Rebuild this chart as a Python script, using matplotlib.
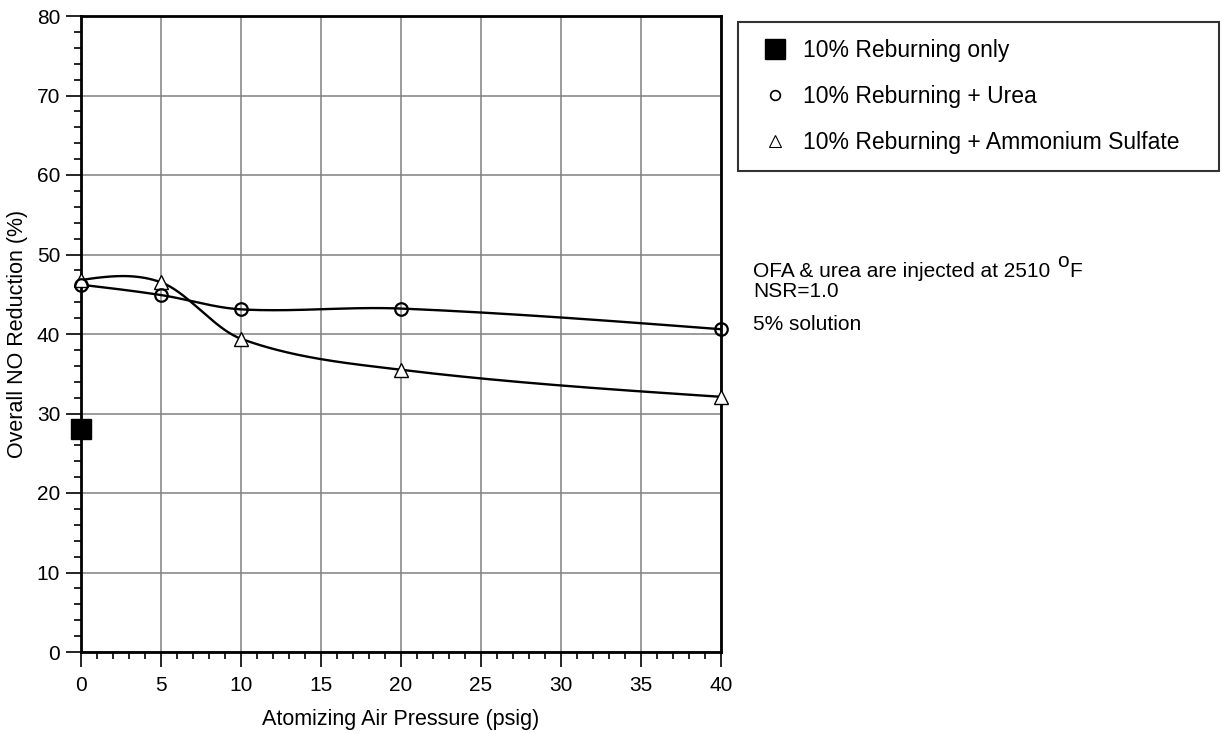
import numpy as np
import matplotlib.pyplot as plt
from matplotlib.lines import Line2D
from matplotlib.ticker import MultipleLocator

plt.rcParams["font.family"] = ["Liberation Sans", "DejaVu Sans"]

# atomizing air pressure (psig)
pressure = [0, 5, 10, 20, 40]
urea = [46.2, 44.9, 43.1, 43.2, 40.6]
amm_sulfate = [46.8, 46.5, 39.4, 35.5, 32.1]
reburn_only_x = [0]
reburn_only_y = [28.0]

labels = ["10% Reburning only",
          "10% Reburning + Urea",
          "10% Reburning + Ammonium Sulfate"]


def smooth_curve(x, y, n=60):
    # Catmull-Rom style Hermite curve, natural-ish end slopes
    x = np.asarray(x, float)
    y = np.asarray(y, float)
    m = np.zeros(len(x))
    m[1:-1] = (y[2:] - y[:-2]) / (x[2:] - x[:-2])
    d0 = (y[1] - y[0]) / (x[1] - x[0])
    d1 = (y[-1] - y[-2]) / (x[-1] - x[-2])
    m[0] = (3 * d0 - m[1]) / 2
    m[-1] = (3 * d1 - m[-2]) / 2
    xs_all, ys_all = [], []
    for i in range(len(x) - 1):
        h = x[i + 1] - x[i]
        s = np.linspace(0, 1, n)
        h00 = 2 * s ** 3 - 3 * s ** 2 + 1
        h10 = s ** 3 - 2 * s ** 2 + s
        h01 = -2 * s ** 3 + 3 * s ** 2
        h11 = s ** 3 - s ** 2
        xs_all.append(x[i] + s * h)
        ys_all.append(h00 * y[i] + h10 * h * m[i] + h01 * y[i + 1] + h11 * h * m[i + 1])
    return np.concatenate(xs_all), np.concatenate(ys_all)


fig = plt.figure(figsize=(12.22, 7.34), dpi=100)
ax = fig.add_axes([81 / 1222, 82 / 734, 640 / 1222, 636 / 734])

ax.set_xlim(0, 40)
ax.set_ylim(0, 80)
ax.xaxis.set_major_locator(MultipleLocator(5))
ax.xaxis.set_minor_locator(MultipleLocator(1))
ax.yaxis.set_major_locator(MultipleLocator(10))
ax.yaxis.set_minor_locator(MultipleLocator(2))
ax.grid(True, which="major", color="#808080", lw=1.1)
ax.set_axisbelow(True)
for s in ax.spines.values():
    s.set_linewidth(2)
ax.tick_params(which="major", direction="out", length=11, width=1.2, labelsize=15)
ax.tick_params(axis="x", which="major", pad=6)
ax.tick_params(axis="y", which="major", pad=4)
ax.tick_params(which="minor", direction="out", length=5, width=1.2)

xs, ys = smooth_curve(pressure, urea)
ax.plot(xs, ys, color="black", lw=1.7, clip_on=False)
xs, ys = smooth_curve(pressure, amm_sulfate)
ax.plot(xs, ys, color="black", lw=1.7, clip_on=False)

ax.plot(pressure, amm_sulfate, ls="none", marker="^", ms=10, mfc="white",
        mec="black", mew=1.0, clip_on=False, zorder=4)
ax.plot(pressure, urea, ls="none", marker="o", ms=9, mfc="none",
        mec="black", mew=1.6, clip_on=False, zorder=5)
ax.plot(reburn_only_x, reburn_only_y, ls="none", marker="s", ms=14,
        color="black", clip_on=False, zorder=6)

ax.set_xlabel("Atomizing Air Pressure (psig)", fontsize=15.5, labelpad=10)
ax.set_ylabel("Overall NO Reduction (%)", fontsize=15.5, labelpad=6)

handles = [
    Line2D([], [], ls="none", marker="s", ms=14, color="black"),
    Line2D([], [], ls="none", marker="o", ms=7, mfc="white", mec="black", mew=1.2),
    Line2D([], [], ls="none", marker="^", ms=8, mfc="white", mec="black", mew=0.8),
]
leg = fig.legend(handles, labels, loc="upper left",
                 bbox_to_anchor=(738 / 1222, 1 - 168 / 734, 481 / 1222, 146 / 734),
                 mode="expand", borderaxespad=0, fontsize=16.5, frameon=True,
                 fancybox=False, edgecolor="black", handlelength=1.75,
                 handletextpad=0.35, labelspacing=1.0, borderpad=0.75)
leg.get_frame().set_linewidth(1.5)

# note block with a raised "o" for degrees
note_x = 753 / 1222
t1 = fig.text(note_x, 1 - 277 / 734, "OFA & urea are injected at 2510 ",
              fontsize=15, va="baseline")
fig.canvas.draw()
renderer = fig.canvas.get_renderer()
x_end = t1.get_window_extent(renderer).x1
deg = fig.text((x_end + 1) / 1222, 1 - 267 / 734, "o", fontsize=15, va="baseline")
x_deg = deg.get_window_extent(renderer).x1
fig.text((x_deg + 1) / 1222, 1 - 277 / 734, "F", fontsize=15, va="baseline")
fig.text(note_x, 1 - 297 / 734, "NSR=1.0", fontsize=15, va="baseline")
fig.text(note_x, 1 - 330 / 734, "5% solution", fontsize=15, va="baseline")

fig.savefig("out.png", dpi=100)
